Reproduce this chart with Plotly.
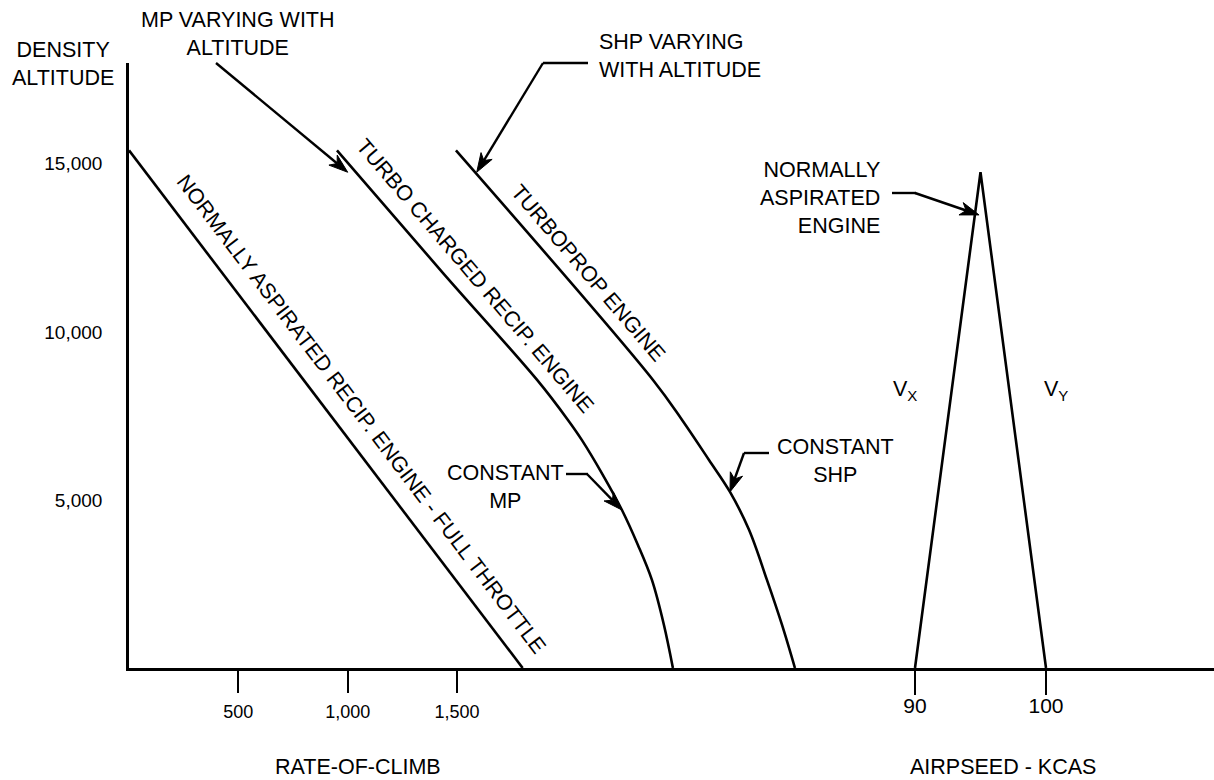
import math
import plotly.graph_objects as go

# ---------------- data ----------------
# Rate-of-climb (ft/min) vs density altitude (ft)
na_roc = [0, 1800]
na_alt = [15400, 0]

tc_roc = [951, 1436, 1866, 2007, 2071, 2167, 2254, 2327, 2391, 2446, 2487]
tc_alt = [15400, 11750, 8570, 7380, 6780, 5740, 4700, 3660, 2620, 1280, 0]

tp_roc = [1495, 2396, 2529, 2652, 2748, 2835, 2917, 2986, 3045]
tp_alt = [15400, 8570, 7380, 6190, 5240, 4110, 2620, 1280, 0]

# Airspeed (KCAS) triangle: Vx at sea level, converging with Vy at absolute ceiling
kcas = [90, 95, 100]
kcas_alt = [0, 14750, 0]

roc_ticks = [500, 1000, 1500]
roc_ticktext = ["500", "1,000", "1,500"]
kcas_ticks = [90, 100]
kcas_ticktext = ["90", "100"]
alt_ticks = [5000, 10000, 15000]
alt_ticktext = ["5,000", "10,000", "15,000"]

# ---------------- layout geometry ----------------
W, H = 1214, 780
L, R, T, B = 129, 0, 63, 112
PW, PH = W - L - R, H - T - B
FONT = "Arial, Liberation Sans, sans-serif"
LW = 2.6
FS = 21.5

ROC_RANGE = [0, PW * 4.5725]
KCAS_RANGE = [90 - (915 - L) / 13.1, 90 + (W - R - 915) / 13.1]
ALT_RANGE = [0, 18000]


def px(x):
    return (x - L) / PW


def py(y):
    return (H - B - y) / PH


def roc_to_px(v):
    return L + (v - ROC_RANGE[0]) / (ROC_RANGE[1] - ROC_RANGE[0]) * PW


def kcas_to_px(v):
    return L + (v - KCAS_RANGE[0]) / (KCAS_RANGE[1] - KCAS_RANGE[0]) * PW


def alt_to_px(v):
    return H - B - (v - ALT_RANGE[0]) / (ALT_RANGE[1] - ALT_RANGE[0]) * PH


fig = go.Figure()
fig.add_trace(go.Scatter(x=na_roc, y=na_alt, mode="lines",
                         line=dict(color="black", width=LW),
                         hoverinfo="skip", showlegend=False))
fig.add_trace(go.Scatter(x=tc_roc, y=tc_alt, mode="lines",
                         line=dict(color="black", width=LW, shape="spline", smoothing=1.0),
                         hoverinfo="skip", showlegend=False))
fig.add_trace(go.Scatter(x=tp_roc, y=tp_alt, mode="lines",
                         line=dict(color="black", width=LW, shape="spline", smoothing=1.0),
                         hoverinfo="skip", showlegend=False))
fig.add_trace(go.Scatter(x=kcas, y=kcas_alt, mode="lines",
                         line=dict(color="black", width=LW),
                         xaxis="x2", hoverinfo="skip", showlegend=False))

ann = []
shapes = []


def text(t, x, y, size=FS, xanchor="center", align="center", angle=0):
    ann.append(dict(text=t, x=px(x), y=py(y), xref="paper", yref="paper",
                    showarrow=False, xanchor=xanchor, yanchor="middle", align=align,
                    textangle=angle, font=dict(family=FONT, size=size, color="black")))


def seg(x0, y0, x1, y1, w=2.4):
    shapes.append(dict(type="line", xref="paper", yref="paper",
                       x0=px(x0), y0=py(y0), x1=px(x1), y1=py(y1),
                       line=dict(color="black", width=w)))


def arrow(tail, tip, hl=19, hw=13):
    tx, ty = tail
    hx, hy = tip
    d = math.hypot(hx - tx, hy - ty)
    ux, uy = (hx - tx) / d, (hy - ty) / d
    nx, ny = -uy, ux
    bx, by = hx - hl * ux, hy - hl * uy
    notch = (hx - 0.72 * hl * ux, hy - 0.72 * hl * uy)
    seg(tx, ty, notch[0], notch[1])
    pts = [(hx, hy), (bx + hw / 2 * nx, by + hw / 2 * ny), notch,
           (bx - hw / 2 * nx, by - hw / 2 * ny)]
    path = "M " + " L ".join(f"{px(a):.5f},{py(b):.5f}" for a, b in pts) + " Z"
    shapes.append(dict(type="path", xref="paper", yref="paper", path=path,
                       fillcolor="black", line=dict(color="black", width=1)))


text("DENSITY<br>ALTITUDE", 63, 64)
text("MP VARYING WITH<br>ALTITUDE", 238, 34)
text("SHP VARYING<br>WITH ALTITUDE", 597, 56, xanchor="left", align="left")
text("NORMALLY<br>ASPIRATED<br>ENGINE", 882, 198, xanchor="right", align="right")
text("CONSTANT<br>MP", 505, 487)
text("CONSTANT<br>SHP", 835, 461)
text("V<sub>X</sub>", 905, 390)
text("V<sub>Y</sub>", 1056, 390)
text("NORMALLY ASPIRATED RECIP. ENGINE - FULL THROTTLE", 361, 414, angle=52.8)
text("TURBO CHARGED RECIP. ENGINE", 475, 276, angle=49.5)
text("TURBOPROP ENGINE", 588, 273, angle=49.5)
text("RATE-OF-CLIMB", 358, 767)
text("AIRPSEED - KCAS", 1003, 767)

# leader lines + arrows (tips at chart points)
arrow((216, 63), (roc_to_px(1000), alt_to_px(14750)))      # MP varying with altitude
seg(543, 63, 588, 63)
arrow((543, 63), (roc_to_px(1590), alt_to_px(14750)))      # SHP varying with altitude
seg(892, 193, 916, 193)
arrow((915, 193), (kcas_to_px(94.89), alt_to_px(13480)))   # normally aspirated engine
seg(566, 474, 588, 474)
arrow((587, 474), (roc_to_px(2254), alt_to_px(4700)))      # constant MP
seg(744, 453, 769, 453)
arrow((744, 453), (roc_to_px(2748), alt_to_px(5240)))      # constant SHP

fig.update_layout(
    width=W, height=H,
    margin=dict(l=L, r=R, t=T, b=B, pad=0),
    paper_bgcolor="white", plot_bgcolor="white",
    font=dict(family=FONT, color="black"),
    annotations=ann, shapes=shapes,
    xaxis=dict(range=ROC_RANGE, showgrid=False, zeroline=False,
               showline=True, linecolor="black", linewidth=LW,
               tickvals=roc_ticks, ticktext=roc_ticktext, ticks="outside",
               ticklen=22, tickwidth=1.6, tickcolor="black",
               tickfont=dict(family=FONT, size=18, color="black"),
               ticklabelstandoff=4, fixedrange=True),
    xaxis2=dict(range=KCAS_RANGE, overlaying="x", side="bottom",
                showgrid=False, zeroline=False, showline=False,
                tickvals=kcas_ticks, ticktext=kcas_ticktext,
                ticks="outside", ticklen=26, tickwidth=1.6, tickcolor="black",
                tickfont=dict(family=FONT, size=21, color="black"),
                ticklabelstandoff=-7, fixedrange=True),
    yaxis=dict(range=ALT_RANGE, showgrid=False, zeroline=False,
               showline=True, linecolor="black", linewidth=LW,
               tickvals=alt_ticks, ticktext=alt_ticktext, ticks="",
               tickfont=dict(family=FONT, size=19, color="black"),
               ticklabelstandoff=20, fixedrange=True),
)

fig.write_html("out.html", config={"displayModeBar": False},
               post_script="document.body.style.margin='0';")
